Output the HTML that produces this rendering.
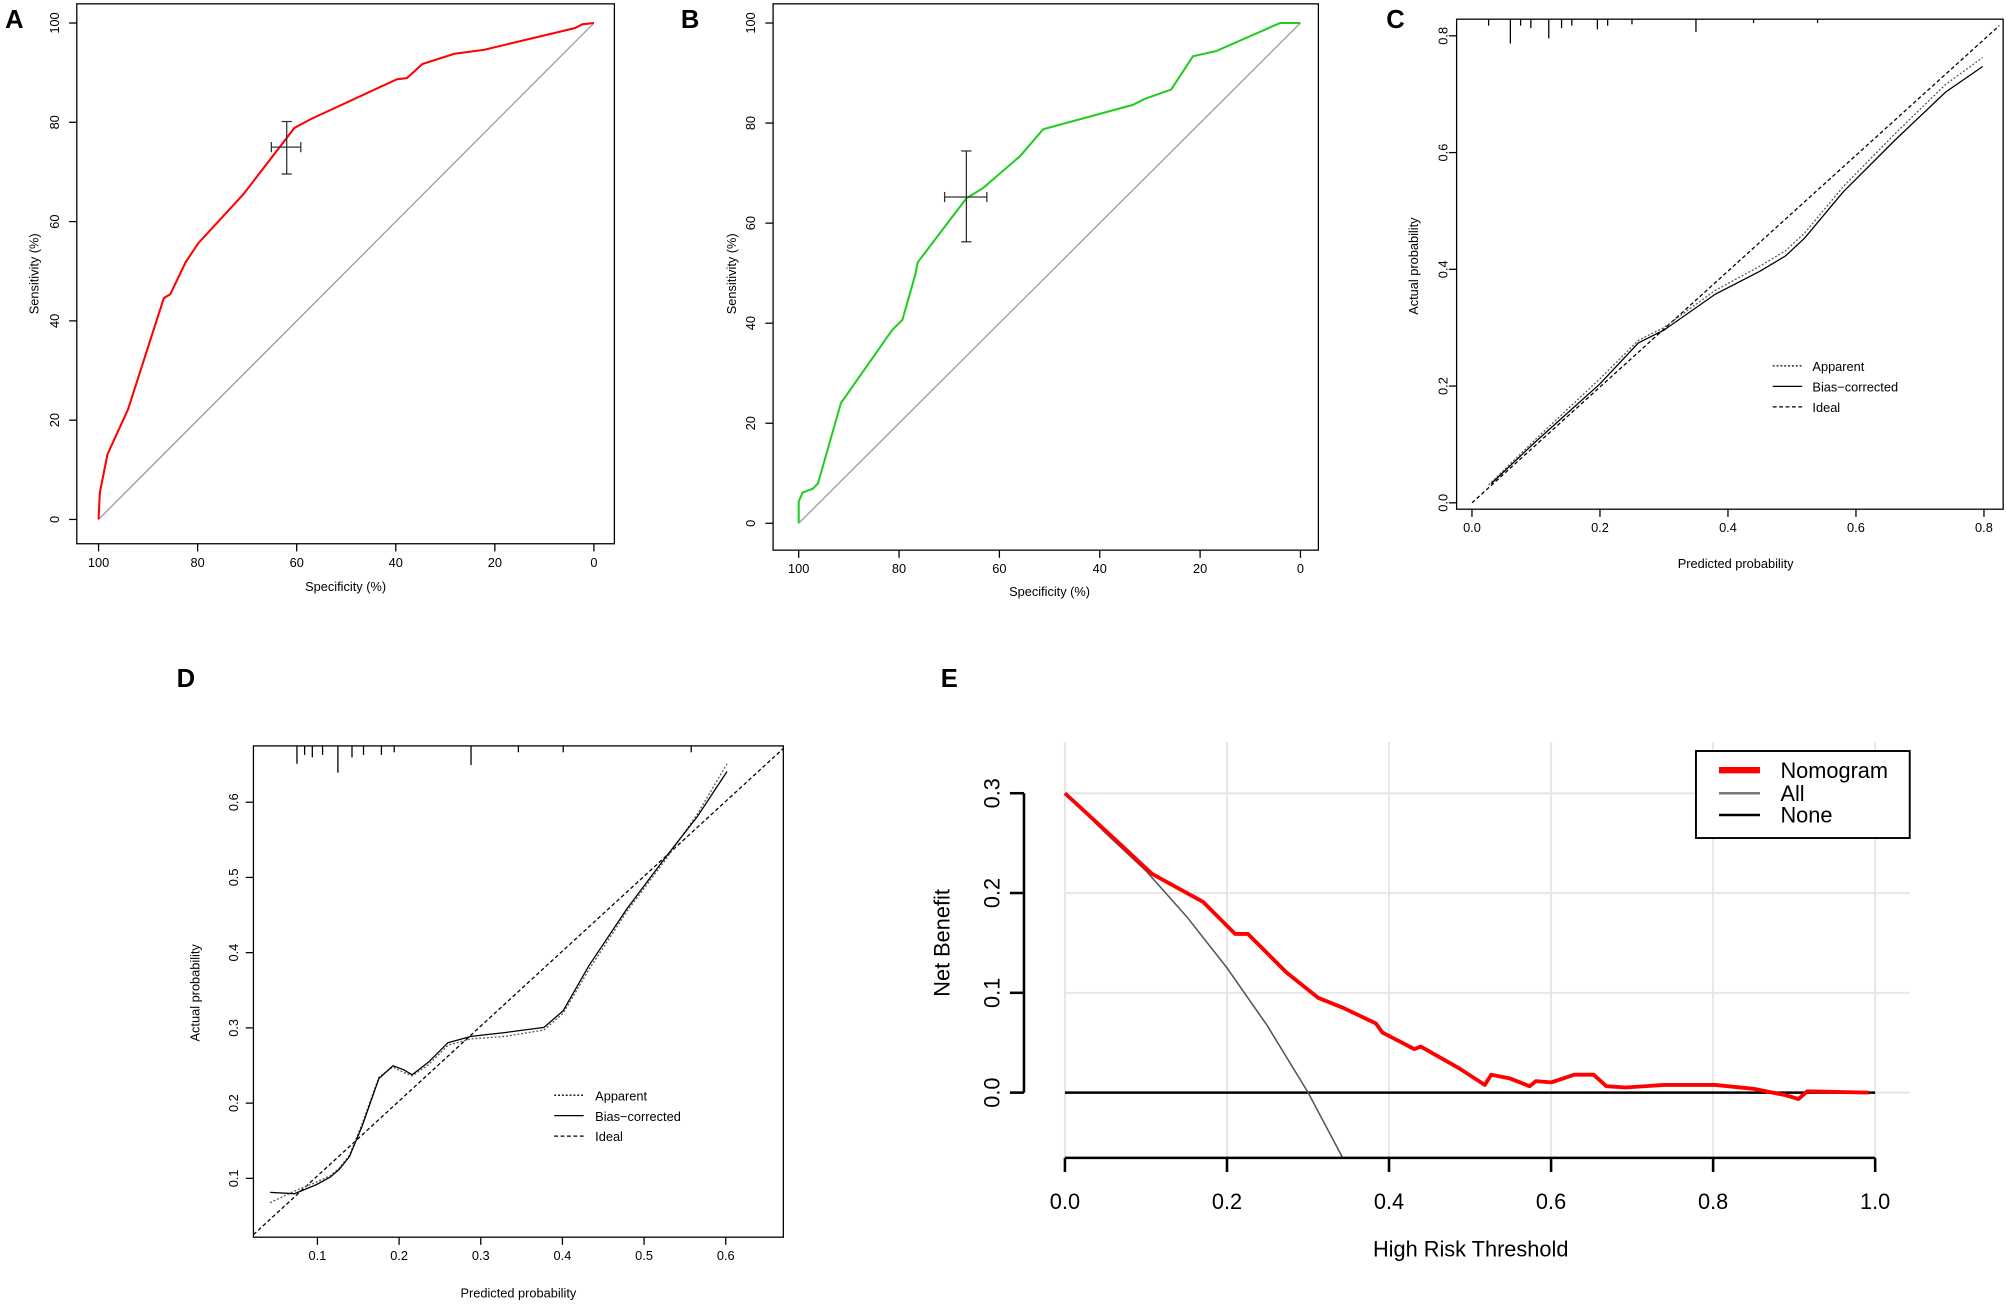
<!DOCTYPE html>
<html><head><style>html,body{margin:0;padding:0;background:#fff}svg{display:block}</style></head>
<body>
<svg width="2007" height="1305" viewBox="0 0 1568 1020" preserveAspectRatio="none" xmlns="http://www.w3.org/2000/svg" font-family="Liberation Sans, Arial, sans-serif">
<rect width="1568" height="1020" fill="#fff"/>
<g font-weight="bold" font-size="20">
<text x="4" y="22">A</text><text x="532" y="22">B</text><text x="1083" y="22">C</text>
<text x="138" y="537">D</text><text x="735" y="537">E</text></g>

<!-- Panel A -->
<g font-size="10" fill="#000">
<rect x="60" y="3" width="420" height="422" fill="none" stroke="#000"/>
<line x1="77" y1="406" x2="464" y2="18" stroke="#999"/>
<polyline fill="none" stroke="#f00" stroke-width="1.6" points="77,406 78,385 81,370 84,355 100,320 128,233 133,230 145,205 155,190 190,152 230,100 243,93 310,62 318,61 330,50 355,42 378,39 449,22 455,19 464,18"/>
<g stroke="#333"><line x1="224" y1="95" x2="224" y2="136"/><line x1="212" y1="115" x2="235" y2="115"/><line x1="220" y1="95" x2="228" y2="95"/><line x1="220" y1="136" x2="228" y2="136"/><line x1="212" y1="111" x2="212" y2="119"/><line x1="235" y1="111" x2="235" y2="119"/></g>
<g stroke="#000"><line x1="77" y1="425" x2="77" y2="431"/><line x1="154.4" y1="425" x2="154.4" y2="431"/><line x1="231.8" y1="425" x2="231.8" y2="431"/><line x1="309.2" y1="425" x2="309.2" y2="431"/><line x1="386.6" y1="425" x2="386.6" y2="431"/><line x1="464" y1="425" x2="464" y2="431"/>
<line x1="54" y1="406" x2="60" y2="406"/><line x1="54" y1="328.4" x2="60" y2="328.4"/><line x1="54" y1="250.8" x2="60" y2="250.8"/><line x1="54" y1="173.2" x2="60" y2="173.2"/><line x1="54" y1="95.6" x2="60" y2="95.6"/><line x1="54" y1="18" x2="60" y2="18"/></g>
<g text-anchor="middle"><text x="77" y="443">100</text><text x="154.4" y="443">80</text><text x="231.8" y="443">60</text><text x="309.2" y="443">40</text><text x="386.6" y="443">20</text><text x="464" y="443">0</text><text x="270" y="462">Specificity (%)</text></g>
<g text-anchor="middle"><text transform="translate(46,406) rotate(-90)">0</text><text transform="translate(46,328.4) rotate(-90)">20</text><text transform="translate(46,250.8) rotate(-90)">40</text><text transform="translate(46,173.2) rotate(-90)">60</text><text transform="translate(46,95.6) rotate(-90)">80</text><text transform="translate(46,18) rotate(-90)">100</text><text transform="translate(30,214) rotate(-90)">Sensitivity (%)</text></g>
</g>

<!-- Panel B -->
<g font-size="10" fill="#000">
<rect x="604" y="3" width="426" height="427" fill="none" stroke="#000"/>
<line x1="624" y1="409" x2="1016" y2="18" stroke="#999"/>
<polyline fill="none" stroke="#2c2" stroke-width="1.6" points="624,409 624,392 627,385 635,382 639,378 657,315 697,258 700,255 705,250 715,215 717,205 755,155 768,147 797,122 815,101 885,82 895,77 915,70 932,44 950,40 1000,18 1016,18"/>
<g stroke="#333"><line x1="755" y1="118" x2="755" y2="189"/><line x1="738" y1="154" x2="771" y2="154"/><line x1="751" y1="118" x2="759" y2="118"/><line x1="751" y1="189" x2="759" y2="189"/><line x1="738" y1="150" x2="738" y2="158"/><line x1="771" y1="150" x2="771" y2="158"/></g>
<g stroke="#000"><line x1="624" y1="430" x2="624" y2="436"/><line x1="702.4" y1="430" x2="702.4" y2="436"/><line x1="780.8" y1="430" x2="780.8" y2="436"/><line x1="859.2" y1="430" x2="859.2" y2="436"/><line x1="937.6" y1="430" x2="937.6" y2="436"/><line x1="1016" y1="430" x2="1016" y2="436"/>
<line x1="598" y1="409" x2="604" y2="409"/><line x1="598" y1="330.8" x2="604" y2="330.8"/><line x1="598" y1="252.6" x2="604" y2="252.6"/><line x1="598" y1="174.4" x2="604" y2="174.4"/><line x1="598" y1="96.2" x2="604" y2="96.2"/><line x1="598" y1="18" x2="604" y2="18"/></g>
<g text-anchor="middle"><text x="624" y="448">100</text><text x="702.4" y="448">80</text><text x="780.8" y="448">60</text><text x="859.2" y="448">40</text><text x="937.6" y="448">20</text><text x="1016" y="448">0</text><text x="820" y="466">Specificity (%)</text></g>
<g text-anchor="middle"><text transform="translate(590,409) rotate(-90)">0</text><text transform="translate(590,330.8) rotate(-90)">20</text><text transform="translate(590,252.6) rotate(-90)">40</text><text transform="translate(590,174.4) rotate(-90)">60</text><text transform="translate(590,96.2) rotate(-90)">80</text><text transform="translate(590,18) rotate(-90)">100</text><text transform="translate(575,214) rotate(-90)">Sensitivity (%)</text></g>
</g>

<!-- Panel C -->
<g font-size="10" fill="#000">
<rect x="1138" y="15" width="427" height="383" fill="none" stroke="#000"/>
<line x1="1150" y1="393" x2="1562" y2="20" stroke="#000" stroke-dasharray="3,2"/>
<polyline fill="none" stroke="#555" stroke-dasharray="1.5,1.5" points="1163,379 1200,343 1250,296 1280,266 1300,256 1340,227 1375,208 1395,196 1410,182 1440,146 1480,105 1520,66 1549,45"/>
<polyline fill="none" stroke="#000" points="1165,378 1200,345 1250,300 1280,268 1300,258 1340,230 1375,212 1395,200 1410,186 1440,150 1480,110 1520,72 1549,52"/>
<g stroke="#000"><line x1="1163" y1="15" x2="1163" y2="20"/><line x1="1180" y1="15" x2="1180" y2="34"/><line x1="1188" y1="15" x2="1188" y2="20"/><line x1="1196" y1="15" x2="1196" y2="22"/><line x1="1210" y1="15" x2="1210" y2="30"/><line x1="1220" y1="15" x2="1220" y2="22"/><line x1="1228" y1="15" x2="1228" y2="20"/><line x1="1248" y1="15" x2="1248" y2="23"/><line x1="1256" y1="15" x2="1256" y2="20"/><line x1="1275" y1="15" x2="1275" y2="19"/><line x1="1325" y1="15" x2="1325" y2="25"/><line x1="1370" y1="15" x2="1370" y2="18"/><line x1="1420" y1="15" x2="1420" y2="18"/>
<line x1="1150" y1="398" x2="1150" y2="404"/><line x1="1250" y1="398" x2="1250" y2="404"/><line x1="1350" y1="398" x2="1350" y2="404"/><line x1="1450" y1="398" x2="1450" y2="404"/><line x1="1550" y1="398" x2="1550" y2="404"/>
<line x1="1132" y1="393" x2="1138" y2="393"/><line x1="1132" y1="301.75" x2="1138" y2="301.75"/><line x1="1132" y1="210.5" x2="1138" y2="210.5"/><line x1="1132" y1="119.25" x2="1138" y2="119.25"/><line x1="1132" y1="28" x2="1138" y2="28"/></g>
<g text-anchor="middle"><text x="1150" y="416">0.0</text><text x="1250" y="416">0.2</text><text x="1350" y="416">0.4</text><text x="1450" y="416">0.6</text><text x="1550" y="416">0.8</text><text x="1356" y="444">Predicted probability</text></g>
<g text-anchor="middle"><text transform="translate(1131,393) rotate(-90)">0.0</text><text transform="translate(1131,301.75) rotate(-90)">0.2</text><text transform="translate(1131,210.5) rotate(-90)">0.4</text><text transform="translate(1131,119.25) rotate(-90)">0.6</text><text transform="translate(1131,28) rotate(-90)">0.8</text><text transform="translate(1108,208) rotate(-90)">Actual probability</text></g>
<line x1="1385" y1="286" x2="1408" y2="286" stroke="#000" stroke-dasharray="1.5,1.5"/><line x1="1385" y1="302" x2="1408" y2="302" stroke="#000"/><line x1="1385" y1="318" x2="1408" y2="318" stroke="#000" stroke-dasharray="3,2"/>
<text x="1416" y="290">Apparent</text><text x="1416" y="306">Bias−corrected</text><text x="1416" y="322">Ideal</text>
</g>

<!-- Panel D -->
<g font-size="10" fill="#000">
<rect x="198" y="583" width="414" height="384" fill="none" stroke="#000"/>
<line x1="198" y1="965" x2="612" y2="585" stroke="#000" stroke-dasharray="3,2"/>
<polyline fill="none" stroke="#555" stroke-dasharray="1.5,1.5" points="211,940 230,931 247,924 258,919 265,913 273,903 283,878 296,842 307,834 315,838 322,841 335,832 350,817 368,812 395,810 425,805 440,792 460,758 490,712 520,672 545,636 568,597"/>
<polyline fill="none" stroke="#000" points="211,932 230,933 247,926 258,920 265,914 273,904 283,880 296,843 307,833 315,836 322,840 335,830 350,815 368,810 395,807 425,803 440,790 460,755 490,710 520,670 545,638 568,603"/>
<g stroke="#000"><line x1="232" y1="583" x2="232" y2="597"/><line x1="238" y1="583" x2="238" y2="590"/><line x1="244" y1="583" x2="244" y2="592"/><line x1="252" y1="583" x2="252" y2="590"/><line x1="264" y1="583" x2="264" y2="604"/><line x1="275" y1="583" x2="275" y2="592"/><line x1="284" y1="583" x2="284" y2="590"/><line x1="298" y1="583" x2="298" y2="590"/><line x1="308" y1="583" x2="308" y2="588"/><line x1="368" y1="583" x2="368" y2="598"/><line x1="405" y1="583" x2="405" y2="588"/><line x1="440" y1="583" x2="440" y2="588"/><line x1="540" y1="583" x2="540" y2="588"/>
<line x1="248" y1="967" x2="248" y2="973"/><line x1="311.8" y1="967" x2="311.8" y2="973"/><line x1="375.6" y1="967" x2="375.6" y2="973"/><line x1="439.4" y1="967" x2="439.4" y2="973"/><line x1="503.2" y1="967" x2="503.2" y2="973"/><line x1="567" y1="967" x2="567" y2="973"/>
<line x1="192" y1="921" x2="198" y2="921"/><line x1="192" y1="862.2" x2="198" y2="862.2"/><line x1="192" y1="803.4" x2="198" y2="803.4"/><line x1="192" y1="744.6" x2="198" y2="744.6"/><line x1="192" y1="685.8" x2="198" y2="685.8"/><line x1="192" y1="627" x2="198" y2="627"/></g>
<g text-anchor="middle"><text x="248" y="985">0.1</text><text x="311.8" y="985">0.2</text><text x="375.6" y="985">0.3</text><text x="439.4" y="985">0.4</text><text x="503.2" y="985">0.5</text><text x="567" y="985">0.6</text><text x="405" y="1014">Predicted probability</text></g>
<g text-anchor="middle"><text transform="translate(186,921) rotate(-90)">0.1</text><text transform="translate(186,862.2) rotate(-90)">0.2</text><text transform="translate(186,803.4) rotate(-90)">0.3</text><text transform="translate(186,744.6) rotate(-90)">0.4</text><text transform="translate(186,685.8) rotate(-90)">0.5</text><text transform="translate(186,627) rotate(-90)">0.6</text><text transform="translate(156,776) rotate(-90)">Actual probability</text></g>
<line x1="433" y1="856" x2="456" y2="856" stroke="#000" stroke-dasharray="1.5,1.5"/><line x1="433" y1="872" x2="456" y2="872" stroke="#000"/><line x1="433" y1="888" x2="456" y2="888" stroke="#000" stroke-dasharray="3,2"/>
<text x="465" y="860">Apparent</text><text x="465" y="876">Bias−corrected</text><text x="465" y="892">Ideal</text>
</g>

<!-- Panel E -->
<g font-size="17" fill="#000">
<g stroke="#e6e6e6" stroke-width="1.5">
<line x1="832" y1="580" x2="832" y2="905"/><line x1="958.6" y1="580" x2="958.6" y2="905"/><line x1="1085.2" y1="580" x2="1085.2" y2="905"/><line x1="1211.8" y1="580" x2="1211.8" y2="905"/><line x1="1338.4" y1="580" x2="1338.4" y2="905"/><line x1="1465" y1="580" x2="1465" y2="905"/>
<line x1="832" y1="620" x2="1492" y2="620"/><line x1="832" y1="698" x2="1492" y2="698"/><line x1="832" y1="776" x2="1492" y2="776"/><line x1="832" y1="854" x2="1492" y2="854"/></g>
<line x1="832" y1="854" x2="1465" y2="854" stroke="#000" stroke-width="2"/>
<polyline fill="none" stroke="#555" stroke-width="1.2" points="832,620 863.7,651 895.3,680.7 927,716.3 958.6,756.5 990.3,802 1022,854 1049,905"/>
<polyline fill="none" stroke="#f00" stroke-width="3" stroke-linejoin="round" points="832,620 870,655 900,683 940,705 955,720 965,730 975,730 990,745 1005,760 1010,764 1030,780 1050,788 1075,800 1080,807 1105,820 1110,818 1140,835 1160,848 1165,840 1180,843 1195,849 1200,845 1212,846 1230,840 1245,840 1255,849 1270,850 1300,848 1340,848 1370,851 1380,853 1395,856 1405,859 1412,853 1460,854"/>
<g stroke="#000" stroke-width="2"><line x1="832" y1="905" x2="1465" y2="905"/>
<line x1="832" y1="905" x2="832" y2="916"/><line x1="958.6" y1="905" x2="958.6" y2="916"/><line x1="1085.2" y1="905" x2="1085.2" y2="916"/><line x1="1211.8" y1="905" x2="1211.8" y2="916"/><line x1="1338.4" y1="905" x2="1338.4" y2="916"/><line x1="1465" y1="905" x2="1465" y2="916"/>
<line x1="800" y1="620" x2="800" y2="854"/>
<line x1="789" y1="620" x2="800" y2="620"/><line x1="789" y1="698" x2="800" y2="698"/><line x1="789" y1="776" x2="800" y2="776"/><line x1="789" y1="854" x2="800" y2="854"/></g>
<g text-anchor="middle"><text x="832" y="945">0.0</text><text x="958.6" y="945">0.2</text><text x="1085.2" y="945">0.4</text><text x="1211.8" y="945">0.6</text><text x="1338.4" y="945">0.8</text><text x="1465" y="945">1.0</text><text x="1149" y="982">High Risk Threshold</text></g>
<g text-anchor="middle"><text transform="translate(781,620) rotate(-90)">0.3</text><text transform="translate(781,698) rotate(-90)">0.2</text><text transform="translate(781,776) rotate(-90)">0.1</text><text transform="translate(781,854) rotate(-90)">0.0</text><text transform="translate(742,737) rotate(-90)">Net Benefit</text></g>
<rect x="1325" y="587" width="167" height="68" fill="#fff" stroke="#000" stroke-width="1.5"/>
<line x1="1343" y1="602" x2="1375" y2="602" stroke="#f00" stroke-width="5"/>
<line x1="1343" y1="620" x2="1375" y2="620" stroke="#777" stroke-width="2"/>
<line x1="1343" y1="637" x2="1375" y2="637" stroke="#000" stroke-width="2"/>
<text x="1391" y="608">Nomogram</text><text x="1391" y="626">All</text><text x="1391" y="643">None</text>
</g>
</svg>
</body></html>
